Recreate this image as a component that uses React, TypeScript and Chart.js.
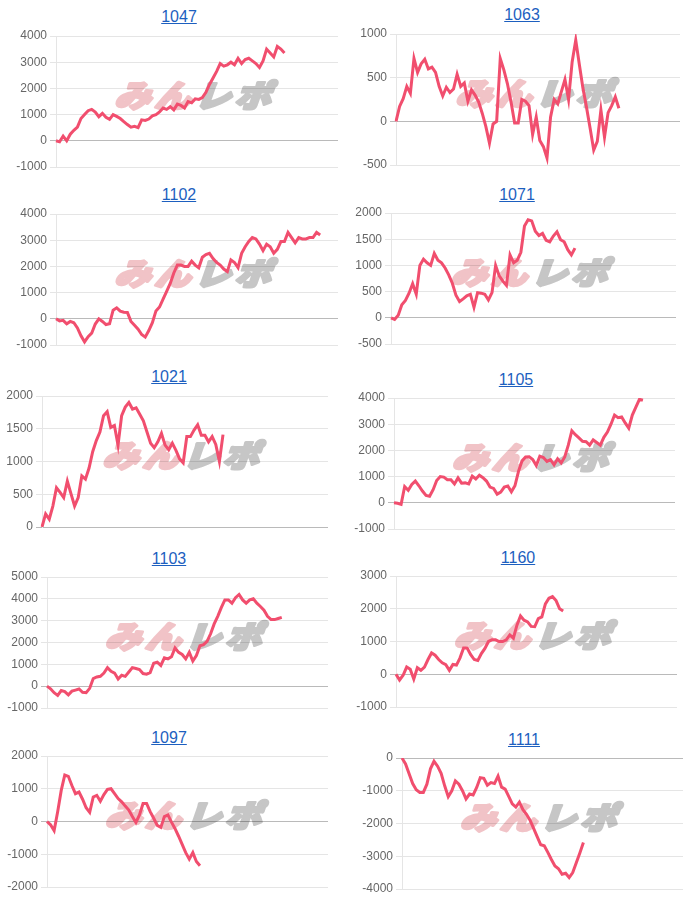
import React, { useEffect, useRef } from 'react';
import { Chart, registerables } from 'chart.js';

Chart.register(...registerables);
Chart.defaults.font.family = "'Liberation Sans', Arial, Helvetica, sans-serif";

// ---- data ----
const TITLES = ['1047', '1063', '1102', '1071', '1021', '1105', '1103', '1160', '1097', '1111'];

const s1047 = [0, -40, 180, 0, 250, 400, 520, 850, 1000, 1150, 1200, 1100, 920, 1050, 900, 820, 1000, 930, 850, 730, 620, 520, 550, 500, 800, 780, 830, 950, 1000, 1100, 1250, 1200, 1300, 1180, 1400, 1350, 1250, 1500, 1450, 1600, 1580, 1650, 1850, 2150, 2400, 2650, 2950, 2850, 2900, 3000, 2900, 3150, 2950, 3100, 3150, 3050, 2950, 2800, 3050, 3500, 3350, 3200, 3600, 3500, 3350];
const s1063 = [0, 170, 260, 400, 320, 720, 560, 660, 710, 600, 620, 560, 400, 290, 390, 330, 370, 540, 400, 440, 230, 360, 300, 220, 90, -60, -250, -30, 0, 720, 590, 430, 220, -20, -20, 250, 230, 180, -150, 50, -220, -290, -420, 50, 250, 200, 340, 480, 250, 680, 930, 650, 380, 160, -80, -330, -230, 130, -180, 100, 180, 280, 150];
const s1102 = [0, -80, -60, -190, -100, -150, -350, -650, -880, -680, -550, -200, 0, -100, -220, -190, 330, 420, 290, 250, 240, -100, -250, -400, -600, -700, -450, -150, 300, 450, 750, 1050, 1350, 1750, 2050, 2050, 2000, 2000, 2200, 2050, 1950, 2350, 2450, 2500, 2300, 2150, 2050, 1900, 1800, 2250, 2150, 1950, 2500, 2750, 2950, 3100, 3050, 2850, 2600, 2850, 2750, 2500, 2650, 2950, 2950, 3300, 3100, 2900, 3100, 3050, 3050, 3100, 3100, 3300, 3200];
const s1071 = [0, -30, 50, 250, 330, 470, 650, 450, 1000, 1120, 1050, 1000, 1230, 1100, 1050, 950, 820, 660, 430, 310, 360, 420, 450, 200, 480, 470, 450, 340, 480, 1000, 800, 700, 620, 1200, 1050, 1100, 1250, 1750, 1870, 1850, 1650, 1570, 1610, 1480, 1450, 1560, 1640, 1490, 1450, 1300, 1200, 1330];
const s1021 = [0, 200, 120, 320, 600, 530, 450, 700, 510, 320, 450, 780, 730, 900, 1150, 1320, 1450, 1700, 1760, 1520, 1550, 1250, 1700, 1830, 1900, 1800, 1820, 1720, 1620, 1450, 1280, 1210, 1300, 1430, 1250, 1180, 1280, 1170, 1040, 980, 1380, 1380, 1480, 1560, 1400, 1400, 1300, 1380, 1260, 1000, 1410];
const s1105 = [0, -20, -60, 620, 480, 700, 830, 650, 450, 280, 250, 500, 850, 1000, 980, 880, 880, 720, 950, 750, 760, 720, 1020, 910, 1050, 960, 830, 600, 550, 330, 410, 600, 640, 420, 650, 1200, 1600, 1750, 1760, 1650, 1420, 1780, 1730, 1580, 1650, 1450, 1680, 1520, 1750, 2200, 2750, 2600, 2480, 2350, 2330, 2200, 2400, 2300, 2200, 2500, 2700, 3000, 3350, 3250, 3280, 3050, 2850, 3350, 3650, 3950, 3920];
const s1103 = [0, -120, -300, -420, -200, -250, -400, -230, -180, -130, -280, -300, -100, 350, 420, 450, 600, 850, 680, 600, 330, 500, 450, 650, 850, 810, 760, 580, 550, 620, 1050, 1100, 950, 1300, 1250, 1350, 1750, 1550, 1450, 1250, 1550, 1150, 1400, 1850, 1900, 2050, 2400, 2850, 3200, 3600, 3950, 3950, 3800, 4050, 4200, 3950, 3800, 3950, 4000, 3800, 3650, 3480, 3200, 3050, 3050, 3100, 3150];
const s1160 = [0, -180, -30, 220, 150, -150, 200, 120, 220, 450, 650, 580, 450, 350, 290, 120, 300, 280, 500, 800, 800, 600, 450, 420, 630, 790, 1000, 1050, 1050, 1000, 1000, 1050, 1200, 1100, 1500, 1780, 1650, 1600, 1460, 1450, 1700, 1750, 2150, 2320, 2370, 2250, 2000, 1930];
const s1097 = [0, -100, -280, 300, 950, 1420, 1380, 1100, 850, 900, 680, 420, 280, 750, 800, 620, 820, 980, 1000, 850, 700, 600, 470, 350, 150, -30, 200, 550, 550, 300, 100, -120, -180, 150, 200, -20, -220, -450, -700, -950, -1150, -950, -1220, -1350];
const s1111 = [0, -180, -480, -780, -970, -1050, -1050, -800, -330, -100, -250, -470, -850, -1180, -1000, -700, -800, -1000, -1250, -1100, -1130, -900, -600, -620, -830, -750, -780, -550, -890, -950, -1170, -1400, -1500, -1350, -1580, -1720, -1900, -2150, -2400, -2650, -2680, -2880, -3100, -3300, -3380, -3550, -3520, -3650, -3500, -3200, -2900, -2580];

const SERIES = [s1047, s1063, s1102, s1071, s1021, s1105, s1103, s1160, s1097, s1111];
const Y_MIN = [-1000, -500, -1000, -500, 0, -1000, -1000, -1000, -2000, -4000];
const Y_MAX = [4000, 1000, 4000, 2000, 2000, 4000, 5000, 3000, 2000, 0];
const Y_STEP = [1000, 500, 1000, 500, 500, 1000, 1000, 1000, 1000, 1000];
const SLOT_COUNT = 80;
const SLOTS = Array.from({ length: SLOT_COUNT }, (_, i) => String(i + 1));

// ---- layout & style (page px): axisX, rightX, topGrid, bottomGrid, titleCx, titleCy ----
const LAYOUT = [
  [56, 338, 36, 167, 179, 17],
  [396, 680, 34, 165, 522, 15],
  [56, 338, 214, 345, 179, 195],
  [391, 676, 213, 344, 517, 195],
  [42, 328, 396, 527, 169, 377],
  [394, 675, 398, 529, 516, 380],
  [47, 328, 577, 708, 169, 559],
  [396, 677, 576, 707, 518, 558],
  [47, 328, 756, 887, 169, 738],
  [402, 683, 758, 889, 524, 740],
];
const LINE_COLOR = 'rgb(241, 78, 110)';
const GRID_COLOR = 'rgba(0,0,0,0.1)';
const ZERO_COLOR = 'rgba(0,0,0,0.27)';
const LINK_COLOR = '#1d5fbf';

const watermark = {
  id: 'minrepoWatermark',
  beforeDraw(chart: any) {
    const a = chart.chartArea;
    if (!a) return;
    const ctx = chart.ctx;
    const cx = (a.left + a.right) / 2;
    const cy = (a.top + a.bottom) / 2 - 8;
    ctx.save();
    ctx.translate(cx, cy);
    ctx.transform(1, 0, -0.3, 0.85, 0, 0);
    ctx.font = "900 36px 'Noto Sans CJK JP', sans-serif";
    ctx.textAlign = 'center';
    ctx.textBaseline = 'middle';
    ctx.lineJoin = 'round';
    ctx.lineWidth = 3.5;
    const chars = ['み', 'ん', 'レ', 'ポ'];
    const cols = ['#f1c3c7', '#f1c3c7', '#c6c6c6', '#c6c6c6'];
    chars.forEach((c, i) => {
      ctx.fillStyle = cols[i];
      ctx.strokeStyle = cols[i];
      ctx.strokeText(c, -60 + i * 40, 2);
      ctx.fillText(c, -60 + i * 40, 2);
    });
    ctx.restore();
  },
};

function Panel({ idx }: { idx: number }) {
  const ref = useRef<HTMLCanvasElement | null>(null);
  const [ax, rx, tg, bg, tcx, tcy] = LAYOUT[idx];
  const left = ax - 42;
  const width = rx - left;
  const top = tg - 10;
  const height = bg - tg + 20;

  useEffect(() => {
    const chart = new Chart(ref.current as HTMLCanvasElement, {
      type: 'line',
      data: {
        labels: SLOTS,
        datasets: [
          {
            data: SERIES[idx],
            borderColor: LINE_COLOR,
            backgroundColor: LINE_COLOR,
            borderWidth: 3,
            pointRadius: 0,
            pointHoverRadius: 0,
            tension: 0,
            fill: false,
          },
        ],
      },
      options: {
        responsive: false,
        animation: false,
        devicePixelRatio: 1,
        layout: { padding: { top: 10, bottom: 10, left: 0, right: 0 } },
        plugins: { legend: { display: false }, tooltip: { enabled: false }, title: { display: false } },
        scales: {
          x: { display: false },
          y: {
            min: Y_MIN[idx],
            max: Y_MAX[idx],
            ticks: {
              stepSize: Y_STEP[idx],
              color: '#666',
              font: { size: 12 },
              padding: 3,
              callback: (v: any) => String(v),
            },
            grid: {
              color: (c: any) => (c.tick && c.tick.value === 0 ? ZERO_COLOR : GRID_COLOR),
              tickLength: 6,
            },
            border: { color: GRID_COLOR },
            afterFit: (s: any) => {
              s.width = ax - left;
              s.paddingTop = 0;
              s.paddingBottom = 0;
            },
          },
        },
      },
      plugins: [watermark],
    } as any);
    return () => chart.destroy();
  }, []);

  return (
    <>
      <div
        style={{
          position: 'absolute',
          left: tcx - 50,
          top: tcy - 10,
          width: 100,
          height: 20,
          lineHeight: '20px',
          textAlign: 'center',
          fontFamily: "'Liberation Sans', Arial, sans-serif",
          fontSize: 16,
        }}
      >
        <a href="#" style={{ color: LINK_COLOR, textDecoration: 'underline' }}>
          {TITLES[idx]}
        </a>
      </div>
      <canvas
        ref={ref}
        width={width}
        height={height}
        style={{ position: 'absolute', left, top, width, height }}
      />
    </>
  );
}

export default function App() {
  return (
    <div style={{ position: 'absolute', left: 0, top: 0, width: 691, height: 900, background: '#fff' }}>
      {TITLES.map((_, i) => (
        <Panel key={i} idx={i} />
      ))}
    </div>
  );
}
